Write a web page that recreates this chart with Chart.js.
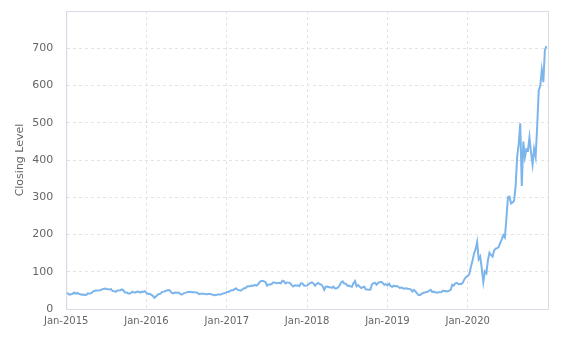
<!DOCTYPE html>
<html>
<head>
<meta charset="utf-8">
<script src="https://cdn.jsdelivr.net/npm/chart.js@4"></script>
<style>
  html, body { margin: 0; padding: 0; background: #fff; }
  #wrap { width: 585px; height: 339px; }
</style>
</head>
<body>
<div id="wrap"><canvas id="chart1"></canvas></div>
<script>
// weekly closing levels, one row per year (52 weeks each)
const years = [2015, 2016, 2017, 2018, 2019, 2020];
const close2015 = [43.8, 41.2, 38.5, 39.4, 40.8, 44.0, 41.0, 43.5, 41.0, 39.8, 38.5, 39.0, 37.6,
  38.2, 42.0, 41.2, 42.5, 46.0, 47.8, 49.6, 49.8, 50.0, 50.1, 52.6, 53.7, 55.0, 53.6, 53.3, 52.3, 53.3,
  48.2, 48.0, 46.0, 49.5, 49.7, 50.4, 52.4, 50.0, 44.0, 44.0, 42.2, 41.3, 43.2, 46.4, 44.2, 44.5, 46.6,
  46.1, 44.0, 46.6, 46.0, 48.0];
const close2016 = [42.3, 40.5, 41.1, 38.1, 35.3, 30.1, 33.6, 38.0, 40.4, 41.3, 46.0, 46.6,
  47.7, 50.0, 50.8, 50.1, 44.2, 41.7, 43.4, 44.0, 43.8, 43.7, 39.2, 38.8, 42.1, 43.2, 44.6, 45.7, 46.1,
  45.9, 45.0, 44.8, 44.0, 43.8, 39.8, 41.0, 41.2, 41.0, 40.2, 39.7, 40.2, 40.4, 39.4, 38.0, 37.2, 37.3, 39.0,
  38.8, 38.9, 40.6, 42.0, 42.7];
const close2017 = [45.6, 45.9, 48.8, 50.4, 50.3, 53.9, 55.2, 51.2, 50.4, 49.0, 52.2, 55.6, 55.7,
  60.4, 60.8, 61.0, 62.9, 61.8, 64.9, 62.6, 65.2, 71.2, 75.0, 76.0, 74.2, 72.3, 62.6, 65.6, 65.7, 67.0,
  71.0, 71.2, 69.0, 69.5, 70.2, 68.8, 75.6, 74.0, 68.5, 71.2, 70.8, 69.4, 64.0, 60.4, 63.7, 62.3, 63.6,
  61.2, 68.9, 68.4, 63.1, 62.3];
const close2018 = [63.3, 67.2, 70.2, 71.3, 68.5, 62.8, 67.1, 70.0, 67.0, 65.6, 60.8, 51.2,
  59.8, 60.2, 58.5, 58.5, 56.8, 60.2, 55.3, 55.6, 57.6, 63.7, 71.5, 74.0, 68.4, 68.0, 62.5, 63.1, 60.5, 59.8,
  69.2, 75.0, 61.1, 64.3, 60.1, 56.3, 58.9, 59.9, 52.9, 52.2, 51.6, 52.0, 66.3, 69.2, 70.2, 65.1, 70.0,
  71.9, 73.0, 69.8, 64.9, 66.8];
const close2019 = [63.5, 68.1, 61.0, 59.4, 62.6, 61.1, 61.5, 59.6, 56.1, 58.2, 55.0, 54.9, 55.9,
  54.6, 54.0, 52.8, 47.0, 51.2, 47.6, 42.6, 38.1, 37.0, 40.8, 42.9, 44.5, 44.7, 46.8, 49.0, 51.5, 45.6,
  46.8, 44.9, 44.0, 45.0, 45.0, 45.5, 49.3, 48.0, 48.2, 46.9, 49.4, 51.6, 65.2, 62.6, 69.0, 70.4, 66.6, 67.1,
  67.0, 71.9, 80.8, 86.1];
const close2020 = [88.6, 95.6, 113.9, 130.1, 149.0, 160.6, 180.0, 133.6, 140.7, 109.3, 72.2, 100.9,
  96.0, 130.2, 150.8, 145.0, 140.3, 156.4, 161.9, 163.4, 167.0, 177.4, 187.0, 198.2, 191.9,
  241.7, 300.2, 301.6, 283.4, 286.2, 290.5, 330.0, 409.0, 442.7, 498.3, 330.2, 449.4, 407.3, 429.0,
  425.7, 461.3, 420.6, 388.0, 429.9, 408.5, 489.6, 585.8, 599.0, 641.8, 609.0, 695.0, 705.7];
const yTicks = [0, 100, 200, 300, 400, 500, 600, 700];

const allCloses = [close2015, close2016, close2017, close2018, close2019, close2020];
const points = [];
allCloses.forEach((arr, yi) => {
  arr.forEach((v, w) => {
    // week w of the year, placed on a fractional-year axis
    points.push({ x: years[yi] + (w * 7 + 1) / 365.25, y: v });
  });
});

const ctx = document.getElementById('chart1').getContext('2d');
new Chart(ctx, {
  type: 'line',
  data: {
    datasets: [{
      label: 'Closing Level',
      data: points,
      borderColor: '#7cb5ec',
      borderWidth: 2,
      pointRadius: 0,
      tension: 0,
      fill: false
    }]
  },
  options: {
    responsive: true,
    maintainAspectRatio: false,
    animation: false,
    layout: { padding: { left: 14, right: 37, top: 11, bottom: 6 } },
    plugins: {
      legend: { display: false },
      tooltip: { enabled: false }
    },
    scales: {
      x: {
        type: 'linear',
        min: 2015,
        max: 2021,
        border: { display: true, color: '#d8dce6', dash: [3, 3] },
        grid: { color: '#e3e3e3', drawTicks: false },
        ticks: {
          stepSize: 1,
          color: '#666',
          font: { family: 'DejaVu Sans', size: 10 },
          padding: 6,
          maxRotation: 0,
          callback: v => (v < 2021 ? 'Jan-' + v : '')
        }
      },
      y: {
        min: 0,
        max: 800,
        afterFit: s => { s.paddingTop = 0; },
        border: { display: true, color: '#d8dce6', dash: [3, 3] },
        grid: { color: '#e3e3e3', drawTicks: false },
        ticks: {
          stepSize: 100,
          color: '#666',
          font: { family: 'DejaVu Sans', size: 11 },
          padding: 13,
          callback: v => (yTicks.includes(v) ? v : '')
        },
        title: {
          display: true,
          text: 'Closing Level',
          color: '#666',
          font: { family: 'DejaVu Sans', size: 11 },
          padding: { top: 0, bottom: -8 }
        }
      }
    }
  },
  plugins: [{
    id: 'frame',
    afterDraw(chart) {
      const a = chart.chartArea, c = chart.ctx;
      c.save();
      c.strokeStyle = '#d8dce6';
      c.lineWidth = 1;
      c.strokeRect(a.left + 0.5, a.top + 0.5, a.right - a.left, a.bottom - a.top);
      c.restore();
    }
  }]
});
</script>
</body>
</html>
